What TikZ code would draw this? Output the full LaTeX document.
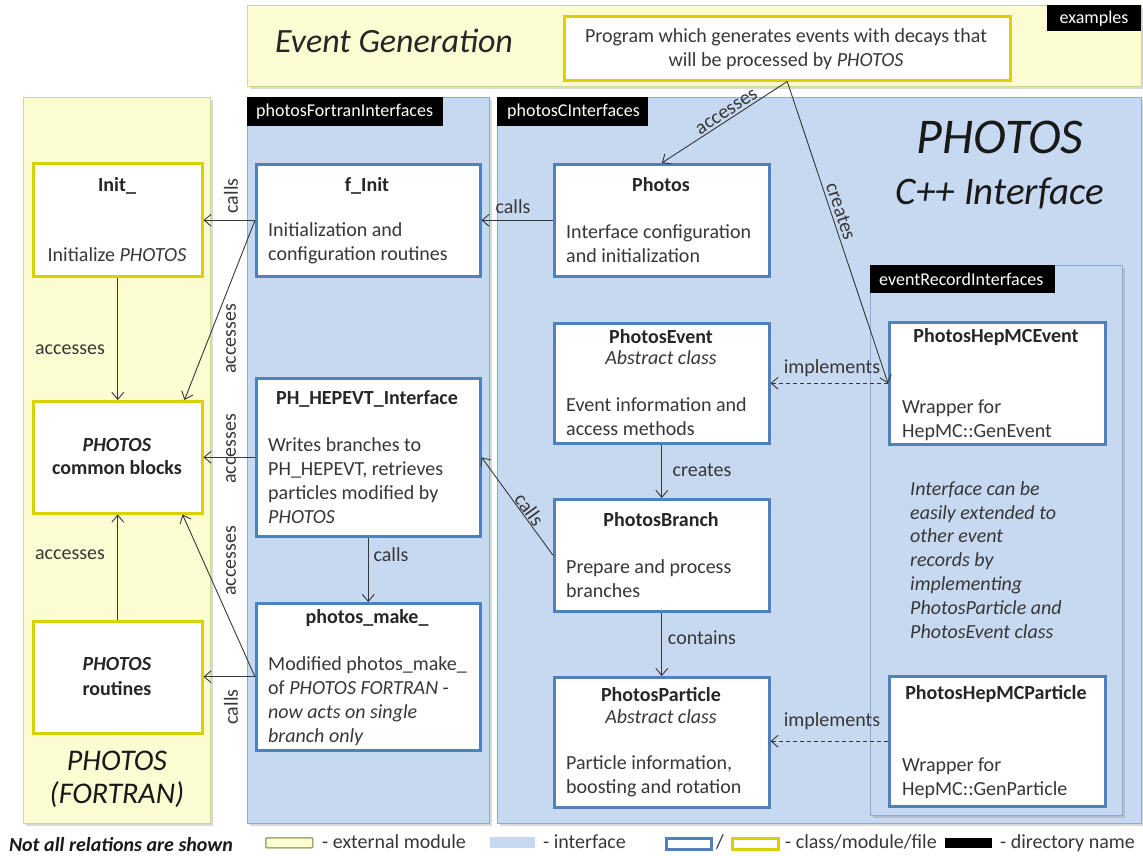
\documentclass[tikz,border=0pt]{standalone}
\usepackage{fontspec}
\setmainfont{Carlito}
\usetikzlibrary{arrows.meta,shadows}
\definecolor{yfill}{RGB}{252,252,210}
\definecolor{yedge}{RGB}{205,215,150}
\definecolor{yline}{RGB}{215,210,0}
\definecolor{bfill}{RGB}{198,217,240}
\definecolor{bedge}{RGB}{140,170,215}
\definecolor{cline}{RGB}{79,129,189}
\definecolor{txt}{RGB}{55,55,55}
\definecolor{arr}{RGB}{55,55,55}
\newcommand\fs{\fontsize{20}{24}\selectfont}
\newcommand\fl{\rule{0pt}{15pt}}
\tikzset{
  ypanel/.style={fill=yfill, draw=yedge, line width=1pt, inner sep=0, anchor=north west,
    drop shadow={shadow xshift=2pt, shadow yshift=-2pt, opacity=0.3}},
  bpanel/.style={fill=bfill, draw=bedge, line width=1pt, inner sep=0, anchor=north west,
    drop shadow={shadow xshift=2pt, shadow yshift=-2pt, opacity=0.3}},
  hdr/.style={fill=black, inner sep=0, anchor=north west},
  hdrtext/.style={font=\fontsize{18}{22}\selectfont, text=white, inner sep=0, anchor=base west},
  cbox/.style={draw=cline, line width=2.5pt, fill=white, inner sep=0, anchor=north west},
  ybox/.style={draw=yline, line width=2.5pt, fill=white, inner sep=0, anchor=north west},
  ttl/.style={font=\fs\bfseries, text=black!85, inner sep=0, anchor=base},
  tc/.style={font=\fs, text=txt, inner sep=0, anchor=base},
  blk/.style={font=\fs, text=txt, inner sep=0, anchor=north west, align=left},
  lbl/.style={font=\fs, text=txt, inner sep=0},
  rel/.style={draw=arr, line width=0.9pt, -{Straight Barb[length=7pt,width=12pt]}},
  impl/.style={rel, dash pattern=on 4pt off 3pt},
}
\begin{document}
\begin{tikzpicture}[x=1pt,y=-1pt]
\useasboundingbox (0,0) rectangle (1143,855);

% panels
\node[ypanel, minimum width=894, minimum height=81] (evgen) at (247,5) {};
\node[ypanel, minimum width=187, minimum height=726] (fortran) at (23,97) {};
\node[bpanel, minimum width=242, minimum height=726] (fint) at (247,97) {};
\node[bpanel, minimum width=644, minimum height=726] (cint) at (497,97) {};
\node[bpanel, minimum width=252, minimum height=550] (erint) at (870,265) {};

% headers
\node[hdr, minimum width=94, minimum height=26] (hEx) at (1047,5) {};
\node[hdrtext, anchor=base] (tEx) at (1094,23) {examples};
\node[hdr, minimum width=196, minimum height=29] (hF) at (247,97) {};
\node[hdrtext] (tF) at (256,116) {photosFortranInterfaces};
\node[hdr, minimum width=151, minimum height=29] (hC) at (497,97) {};
\node[hdrtext] (tC) at (507,116) {photosCInterfaces};
\node[hdr, minimum width=185, minimum height=28] (hE) at (870,265) {};
\node[hdrtext] (tE) at (879,285) {eventRecordInterfaces};

% big titles
\node[font=\fontsize{34}{40}\selectfont\itshape, text=black!85, inner sep=0, anchor=base] (tEG) at (394,52) {Event Generation};
\node[font=\fontsize{50}{56}\selectfont\itshape, text=black!90, inner sep=0, anchor=base] (tPH) at (1000,153) {PHOTOS};
\node[font=\fontsize{39}{44}\selectfont\itshape, text=black!90, inner sep=0, anchor=base] (tCI) at (1000,204) {C++ Interface};
\node[font=\fontsize{30}{33}\selectfont\itshape, text=black!90, inner sep=0, anchor=base] (tPF1) at (117,770) {PHOTOS};
\node[font=\fontsize{30}{33}\selectfont\itshape, text=black!90, inner sep=0, anchor=base] (tPF2) at (117,803) {(FORTRAN)};
\node[font=\fs\bfseries\itshape, text=black!90, inner sep=0, anchor=base] (tNot) at (121,851) {Not all relations are shown};

% program box
\node[ybox, minimum width=446, minimum height=64] (prog) at (563,15) {};
\node[font=\fs, text=txt, inner sep=0, anchor=north, align=center] (tprog) at (786,27)
  {\fl Program which generates events with decays that\\will be processed by \textit{PHOTOS}};

% FORTRAN boxes
\node[ybox, minimum width=169, minimum height=113] (init) at (32,162) {};
\node[ttl] (tinit) at (117,191) {Init\_};
\node[tc] (tinit2) at (117,261) {Initialize \textit{PHOTOS}};
\node[ybox, minimum width=169, minimum height=112] (common) at (32,400) {};
\node[ttl] (tcb1) at (117,451) {\textit{PHOTOS}};
\node[ttl] (tcb2) at (117,474) {common blocks};
\node[ybox, minimum width=169, minimum height=112] (routines) at (32,620) {};
\node[ttl] (tr1) at (117,670) {\textit{PHOTOS}};
\node[ttl] (tr2) at (117,695) {routines};

% fortran interface boxes
\node[cbox, minimum width=224, minimum height=112] (finit) at (255,163) {};
\node[ttl] (tfi) at (367,191) {f\_Init};
\node[blk] (tfi2) at (268,221.5) {\fl Initialization and\\configuration routines};
\node[cbox, minimum width=224, minimum height=158] (ph) at (255,377) {};
\node[ttl] (tph) at (367,404) {PH\_HEPEVT\_Interface};
\node[blk] (tph2) at (268,436) {\fl Writes branches to\\PH\_HEPEVT, retrieves\\particles modified by\\\textit{PHOTOS}};
\node[cbox, minimum width=224, minimum height=147] (make) at (255,602) {};
\node[ttl] (tmk) at (367,623) {photos\_make\_};
\node[blk] (tmk2) at (268,655) {\fl Modified photos\_make\_\\of \textit{PHOTOS FORTRAN} -\\\textit{now acts on single}\\\textit{branch only}};

% C++ interface boxes
\node[cbox, minimum width=215, minimum height=112] (photos) at (553,163) {};
\node[ttl] (tpo) at (661,191) {Photos};
\node[blk] (tpo2) at (566,223) {\fl Interface configuration\\and initialization};
\node[cbox, minimum width=215, minimum height=120] (pev) at (553,322) {};
\node[ttl] (tpe) at (661,343) {PhotosEvent};
\node[tc, font=\fs\itshape] (tpe1) at (661,364) {Abstract class};
\node[blk] (tpe2) at (566,396) {\fl Event information and\\access methods};
\node[cbox, minimum width=215, minimum height=112] (pbr) at (553,498) {};
\node[ttl] (tpb) at (661,526) {PhotosBranch};
\node[blk] (tpb2) at (566,558) {\fl Prepare and process\\branches};
\node[cbox, minimum width=215, minimum height=130] (ppa) at (553,676) {};
\node[ttl] (tpp) at (661,701) {PhotosParticle};
\node[tc, font=\fs\itshape] (tpp1) at (661,723) {Abstract class};
\node[blk] (tpp2) at (566,754) {\fl Particle information,\\boosting and rotation};

% event record boxes
\node[cbox, minimum width=216, minimum height=122] (hepev) at (888,321) {};
\node[ttl] (the) at (996,342) {PhotosHepMCEvent};
\node[blk] (the2) at (902,398) {\fl Wrapper for\\HepMC::GenEvent};
\node[cbox, minimum width=216, minimum height=130] (hepp) at (888,675) {};
\node[ttl] (thp) at (996,699) {PhotosHepMCParticle};
\node[blk] (thp2) at (902,756) {\fl Wrapper for\\HepMC::GenParticle};
\node[blk, font=\fontsize{20}{23.8}\selectfont\itshape] (tnote) at (910,480)
  {\fl Interface can be\\easily extended to\\other event\\records by\\implementing\\PhotosParticle and\\PhotosEvent class};

% relations
\draw[rel] (finit.west) -- (finit.west -| init.east);
\draw[rel] (finit.west) -- ([xshift=-19pt]common.north east);
\draw[rel] (init.south) -- (common.north);
\draw[rel] (routines.north) -- (common.south);
\draw[rel] (ph.west) -- (ph.west -| common.east);
\draw[rel] (make.west) -- (make.west -| routines.east);
\draw[rel] (make.west) -- ([xshift=-21pt]common.south east);
\draw[rel] (ph.south) -- (make.north);
\draw[rel] (photos.west) -- (photos.west -| finit.east);
\draw[rel] (prog.south) -- node[lbl, sloped, above, pos=0.45, inner sep=2pt] (laccP) {accesses} (photos.north);
\draw[rel] (prog.south) -- node[lbl, sloped, above, pos=0.44, inner sep=3pt] (lcre) {creates} (hepev.west);
\draw[rel] (pev.south) -- (pbr.north);
\draw[rel] (pbr.west) -- node[lbl, sloped, above, pos=0.42, inner sep=0.5pt] (lcallB) {calls} (ph.east);
\draw[rel] (pbr.south) -- (ppa.north);
\draw[impl] (hepev.west) -- (hepev.west -| pev.east);
\draw[impl] (hepp.west) -- (hepp.west -| ppa.east);

% labels
\node[lbl, rotate=90] (l1) at (231,196) {calls};
\node[lbl, rotate=90] (l2) at (231,339) {accesses};
\node[lbl, rotate=90] (l3) at (231,449) {accesses};
\node[lbl, rotate=90] (l4) at (231,561) {accesses};
\node[lbl, rotate=90] (l5) at (231,707) {calls};
\node[lbl] (l6) at (70,350) {accesses};
\node[lbl] (l7) at (70,555) {accesses};
\node[lbl] (l8) at (391,555) {calls};
\node[lbl] (l9) at (513,207) {calls};
\node[lbl] (l10) at (702,470) {creates};
\node[lbl] (l11) at (702,638) {contains};
\node[lbl] (l12) at (832,368) {implements};
\node[lbl] (l13) at (832,721) {implements};

% legend
\node[fill=yfill, draw=yedge!80!black, line width=1.5pt, rounded corners=1pt, inner sep=0, minimum width=47, minimum height=10, anchor=north west] (sw1) at (265,837) {};
\node[lbl, anchor=base west] (lg1) at (322,848) {- external module};
\node[fill=bfill, inner sep=0, minimum width=45, minimum height=11, anchor=north west] (sw2) at (490,837) {};
\node[lbl, anchor=base west] (lg2) at (543,848) {- interface};
\node[draw=cline, fill=white, line width=2.5pt, inner sep=0, minimum width=45, minimum height=11, anchor=north west] (sw3) at (665,837) {};
\node[lbl, anchor=base] (lg3) at (720,848) {/};
\node[draw=yline, fill=white, line width=2.5pt, inner sep=0, minimum width=46, minimum height=11, anchor=north west] (sw4) at (731,837) {};
\node[lbl, anchor=base west] (lg4) at (785,848) {- class/module/file};
\node[fill=black, inner sep=0, minimum width=47, minimum height=10, anchor=north west] (sw5) at (945,838) {};
\node[lbl, anchor=base west] (lg5) at (1000,848) {- directory name};
\end{tikzpicture}
\end{document}
